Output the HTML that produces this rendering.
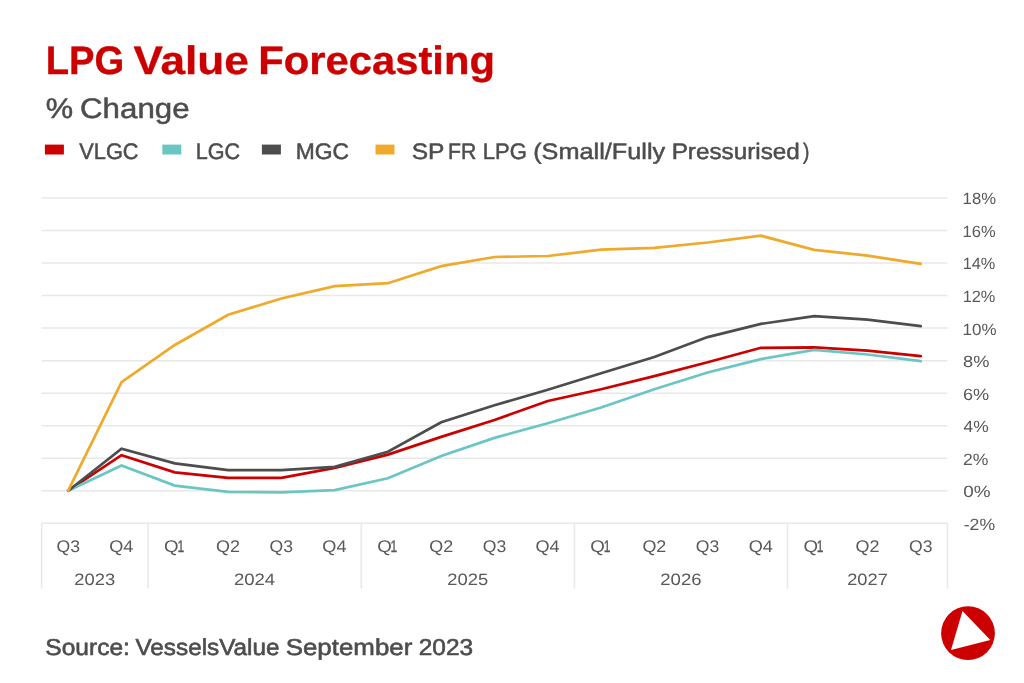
<!DOCTYPE html>
<html lang="en"><head><meta charset="utf-8"><title>LPG Value Forecasting</title>
<style>html,body{margin:0;padding:0;background:#fff}body{width:1024px;height:683px;overflow:hidden}svg{display:block;font-family:"Liberation Sans",sans-serif}text{white-space:pre;text-rendering:geometricPrecision}</style></head><body>
<svg width="1024" height="683" viewBox="0 0 1024 683">
<rect width="1024" height="683" fill="#fff"/>
<g id="header">
<text y="74" font-size="39.7" font-weight="700" fill="#cc0000" stroke="#cc0000" stroke-width="0.35" stroke-linejoin="round"><tspan x="45.72" textLength="78.47" lengthAdjust="spacingAndGlyphs">LPG</tspan> <tspan x="133.62" textLength="115.21" lengthAdjust="spacingAndGlyphs">Value</tspan> <tspan x="258.28" textLength="236.64" lengthAdjust="spacingAndGlyphs">Forecasting</tspan></text>
<text y="118" font-size="28.4" font-weight="400" fill="#4d4d4d" stroke="#4d4d4d" stroke-width="0.5" stroke-linejoin="round"><tspan x="45.75" textLength="27.40" lengthAdjust="spacingAndGlyphs">%</tspan> <tspan x="80.06" textLength="109.48" lengthAdjust="spacingAndGlyphs">Change</tspan></text>
</g>
<g id="legend">
<rect x="44.9" y="144.6" width="19" height="9.9" fill="#cc0000"/>
<text y="159" font-size="22.5" font-weight="400" fill="#4d4d4d" stroke="#4d4d4d" stroke-width="0.5" stroke-linejoin="round"><tspan x="79.25" textLength="59.33" lengthAdjust="spacingAndGlyphs">VLGC</tspan></text>
<rect x="162.3" y="144.6" width="19" height="9.9" fill="#6ac6c3"/>
<text y="159" font-size="22.5" font-weight="400" fill="#4d4d4d" stroke="#4d4d4d" stroke-width="0.5" stroke-linejoin="round"><tspan x="195.68" textLength="44.39" lengthAdjust="spacingAndGlyphs">LGC</tspan></text>
<rect x="261.9" y="144.6" width="19" height="9.9" fill="#4d4d4d"/>
<text y="159" font-size="22.5" font-weight="400" fill="#4d4d4d" stroke="#4d4d4d" stroke-width="0.5" stroke-linejoin="round"><tspan x="295.67" textLength="53.35" lengthAdjust="spacingAndGlyphs">MGC</tspan></text>
<rect x="375.5" y="144.6" width="19" height="9.9" fill="#efa92b"/>
<text y="159" font-size="22.5" font-weight="400" fill="#4d4d4d" stroke="#4d4d4d" stroke-width="0.5" stroke-linejoin="round"><tspan x="411.75" textLength="32.27" lengthAdjust="spacingAndGlyphs">SP</tspan> <tspan x="447.91" textLength="28.33" lengthAdjust="spacingAndGlyphs">FR</tspan> <tspan x="482.84" textLength="44.05" lengthAdjust="spacingAndGlyphs">LPG</tspan> <tspan x="533.18" textLength="132.02" lengthAdjust="spacingAndGlyphs">(Small/Fully</tspan> <tspan x="671.66" textLength="128.16" lengthAdjust="spacingAndGlyphs">Pressurised</tspan><tspan x="803.04" textLength="6.41" lengthAdjust="spacingAndGlyphs">)</tspan></text>
</g>
<g id="grid" stroke="#e8e8e8" stroke-width="1.5" fill="none">
<line x1="41.6" y1="198.00" x2="947.4" y2="198.00"/>
<line x1="41.6" y1="230.53" x2="947.4" y2="230.53"/>
<line x1="41.6" y1="263.06" x2="947.4" y2="263.06"/>
<line x1="41.6" y1="295.59" x2="947.4" y2="295.59"/>
<line x1="41.6" y1="328.12" x2="947.4" y2="328.12"/>
<line x1="41.6" y1="360.65" x2="947.4" y2="360.65"/>
<line x1="41.6" y1="393.18" x2="947.4" y2="393.18"/>
<line x1="41.6" y1="425.71" x2="947.4" y2="425.71"/>
<line x1="41.6" y1="458.24" x2="947.4" y2="458.24"/>
<line x1="41.6" y1="490.77" x2="947.4" y2="490.77"/>
<line x1="41.6" y1="523.30" x2="947.4" y2="523.30"/>
<line x1="41.60" y1="523.30" x2="41.60" y2="588.6"/>
<line x1="148.16" y1="523.30" x2="148.16" y2="588.6"/>
<line x1="361.29" y1="523.30" x2="361.29" y2="588.6"/>
<line x1="574.42" y1="523.30" x2="574.42" y2="588.6"/>
<line x1="787.55" y1="523.30" x2="787.55" y2="588.6"/>
<line x1="947.40" y1="523.30" x2="947.40" y2="588.6"/>
</g>
<g id="series">
<polyline points="68.2,490.7 121.5,455.2 174.8,472.3 228.1,477.8 281.4,477.8 334.7,467.9 387.9,454.6 441.2,436.9 494.5,420.0 547.8,401.0 601.1,389.3 654.3,376.1 707.6,362.2 760.9,347.8 814.2,347.4 867.5,350.6 920.8,356.1" fill="none" stroke="#cc0000" stroke-width="2.7" stroke-linejoin="miter" stroke-linecap="round"/>
<polyline points="68.2,490.7 121.5,465.5 174.8,485.6 228.1,491.8 281.4,492.3 334.7,490.1 387.9,478.3 441.2,455.9 494.5,437.9 547.8,423.3 601.1,407.5 654.3,389.3 707.6,372.5 760.9,359.1 814.2,349.9 867.5,354.5 920.8,361.1" fill="none" stroke="#6ac6c3" stroke-width="2.7" stroke-linejoin="miter" stroke-linecap="round"/>
<polyline points="68.2,490.7 121.5,448.7 174.8,463.4 228.1,470.2 281.4,470.2 334.7,466.9 387.9,451.8 441.2,422.2 494.5,405.3 547.8,389.7 601.1,373.2 654.3,357.0 707.6,337.1 760.9,323.9 814.2,316.2 867.5,319.7 920.8,326.1" fill="none" stroke="#4d4d4d" stroke-width="2.7" stroke-linejoin="miter" stroke-linecap="round"/>
<polyline points="68.2,490.7 121.5,382.2 174.8,345.0 228.1,314.8 281.4,298.5 334.7,286.2 387.9,283.2 441.2,266.1 494.5,257.0 547.8,256.0 601.1,249.6 654.3,247.8 707.6,242.5 760.9,235.7 814.2,249.8 867.5,255.6 920.8,263.8" fill="none" stroke="#efa92b" stroke-width="2.7" stroke-linejoin="miter" stroke-linecap="round"/>
</g>
<g id="axes" font-size="16.9" fill="#595959">
<text y="552" font-size="16.9"><tspan x="56.46" textLength="23.51" lengthAdjust="spacingAndGlyphs">Q3</tspan></text>
<text y="552" font-size="16.9"><tspan x="109.26" textLength="24.19" lengthAdjust="spacingAndGlyphs">Q4</tspan></text>
<text y="552" font-size="16.9"><tspan x="164.02" textLength="14.59" lengthAdjust="spacingAndGlyphs">Q</tspan><tspan x="177.39" textLength="6.71" lengthAdjust="spacingAndGlyphs" stroke="#595959" stroke-width="0.35">1</tspan></text>
<text y="552" font-size="16.9"><tspan x="216.14" textLength="23.95" lengthAdjust="spacingAndGlyphs">Q2</tspan></text>
<text y="552" font-size="16.9"><tspan x="269.59" textLength="23.51" lengthAdjust="spacingAndGlyphs">Q3</tspan></text>
<text y="552" font-size="16.9"><tspan x="322.39" textLength="24.19" lengthAdjust="spacingAndGlyphs">Q4</tspan></text>
<text y="552" font-size="16.9"><tspan x="377.15" textLength="14.59" lengthAdjust="spacingAndGlyphs">Q</tspan><tspan x="390.52" textLength="6.71" lengthAdjust="spacingAndGlyphs" stroke="#595959" stroke-width="0.35">1</tspan></text>
<text y="552" font-size="16.9"><tspan x="429.27" textLength="23.95" lengthAdjust="spacingAndGlyphs">Q2</tspan></text>
<text y="552" font-size="16.9"><tspan x="482.72" textLength="23.51" lengthAdjust="spacingAndGlyphs">Q3</tspan></text>
<text y="552" font-size="16.9"><tspan x="535.52" textLength="24.19" lengthAdjust="spacingAndGlyphs">Q4</tspan></text>
<text y="552" font-size="16.9"><tspan x="590.28" textLength="14.59" lengthAdjust="spacingAndGlyphs">Q</tspan><tspan x="603.65" textLength="6.71" lengthAdjust="spacingAndGlyphs" stroke="#595959" stroke-width="0.35">1</tspan></text>
<text y="552" font-size="16.9"><tspan x="642.40" textLength="23.95" lengthAdjust="spacingAndGlyphs">Q2</tspan></text>
<text y="552" font-size="16.9"><tspan x="695.84" textLength="23.51" lengthAdjust="spacingAndGlyphs">Q3</tspan></text>
<text y="552" font-size="16.9"><tspan x="748.65" textLength="24.19" lengthAdjust="spacingAndGlyphs">Q4</tspan></text>
<text y="552" font-size="16.9"><tspan x="803.41" textLength="14.59" lengthAdjust="spacingAndGlyphs">Q</tspan><tspan x="816.78" textLength="6.71" lengthAdjust="spacingAndGlyphs" stroke="#595959" stroke-width="0.35">1</tspan></text>
<text y="552" font-size="16.9"><tspan x="855.53" textLength="23.95" lengthAdjust="spacingAndGlyphs">Q2</tspan></text>
<text y="552" font-size="16.9"><tspan x="908.97" textLength="23.51" lengthAdjust="spacingAndGlyphs">Q3</tspan></text>
<text y="585" font-size="16.5"><tspan x="74.36" textLength="40.93" lengthAdjust="spacingAndGlyphs">2023</tspan></text>
<text y="585" font-size="16.5"><tspan x="233.90" textLength="41.28" lengthAdjust="spacingAndGlyphs">2024</tspan></text>
<text y="585" font-size="16.5"><tspan x="447.33" textLength="40.90" lengthAdjust="spacingAndGlyphs">2025</tspan></text>
<text y="585" font-size="16.5"><tspan x="660.25" textLength="41.35" lengthAdjust="spacingAndGlyphs">2026</tspan></text>
<text y="585" font-size="16.5"><tspan x="847.16" textLength="40.64" lengthAdjust="spacingAndGlyphs">2027</tspan></text>
<text y="204" font-size="16.3"><tspan x="962.63" textLength="33.36" lengthAdjust="spacingAndGlyphs">18%</tspan></text>
<text y="237" font-size="16.3"><tspan x="962.64" textLength="33.15" lengthAdjust="spacingAndGlyphs">16%</tspan></text>
<text y="269" font-size="16.3"><tspan x="962.65" textLength="32.73" lengthAdjust="spacingAndGlyphs">14%</tspan></text>
<text y="302" font-size="16.3"><tspan x="962.65" textLength="32.73" lengthAdjust="spacingAndGlyphs">12%</tspan></text>
<text y="335" font-size="16.3"><tspan x="962.61" textLength="34.00" lengthAdjust="spacingAndGlyphs">10%</tspan></text>
<text y="367" font-size="16.3"><tspan x="963.11" textLength="26.34" lengthAdjust="spacingAndGlyphs">8%</tspan></text>
<text y="400" font-size="16.3"><tspan x="962.98" textLength="26.27" lengthAdjust="spacingAndGlyphs">6%</tspan></text>
<text y="432" font-size="16.3"><tspan x="963.50" textLength="25.12" lengthAdjust="spacingAndGlyphs">4%</tspan></text>
<text y="465" font-size="16.3"><tspan x="963.02" textLength="25.41" lengthAdjust="spacingAndGlyphs">2%</tspan></text>
<text y="497" font-size="16.3"><tspan x="963.16" textLength="27.31" lengthAdjust="spacingAndGlyphs">0%</tspan></text>
<text y="530" font-size="16.3"><tspan x="963.72" textLength="31.41" lengthAdjust="spacingAndGlyphs">-2%</tspan></text>
</g>
<g id="footer">
<text y="655" font-size="23.0" font-weight="400" fill="#4d4d4d" stroke="#4d4d4d" stroke-width="0.6" stroke-linejoin="round"><tspan x="45.39" textLength="84.45" lengthAdjust="spacingAndGlyphs">Source:</tspan> <tspan x="135.49" textLength="143.99" lengthAdjust="spacingAndGlyphs">VesselsValue</tspan> <tspan x="285.72" textLength="126.60" lengthAdjust="spacingAndGlyphs">September</tspan> <tspan x="418.77" textLength="54.30" lengthAdjust="spacingAndGlyphs">2023</tspan></text>
<circle cx="968" cy="633.2" r="26.9" fill="#cc0000"/>
<polygon points="962.5,611.1 990.3,640.1 951,650" fill="#fff"/>
</g>
</svg></body></html>
